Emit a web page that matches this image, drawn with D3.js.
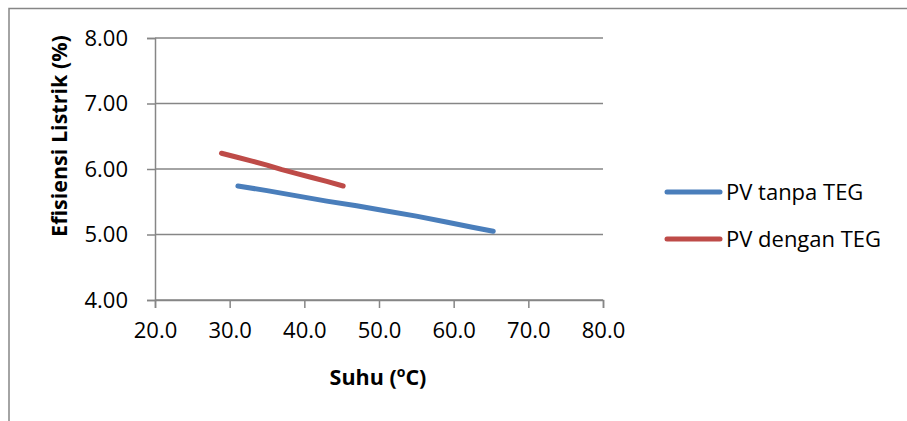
<!DOCTYPE html>
<html>
<head>
<meta charset="utf-8">
<script src="https://cdn.jsdelivr.net/npm/d3@7"></script>
<style>
  body { margin: 0; background: #fff; }
  svg text { font-family: "Open Sans", sans-serif; fill: #000; }
</style>
</head>
<body>
<div id="chart"></div>
<script>

// data
var xTicks = [20, 30, 40, 50, 60, 70, 80]
var yTicks = [4, 5, 6, 7, 8]

var suhuTanpa = [31.1, 35.0, 39.0, 43.0, 47.0, 51.0, 55.0, 59.0, 62.5, 65.3]
var effTanpa  = [5.74, 5.67, 5.59, 5.51, 5.44, 5.36, 5.28, 5.19, 5.11, 5.05]

var suhuDengan = [28.9, 31.0, 33.0, 35.0, 37.0, 39.0, 41.0, 43.0, 45.2]
var effDengan  = [6.24, 6.18, 6.12, 6.06, 5.99, 5.93, 5.87, 5.81, 5.74]

var seriesNames = ['PV tanpa TEG', 'PV dengan TEG']
var seriesCols = ['#4a7ebb', '#be4b48']

var W = 907, H = 421
var gridCol = '#868686'

var svg = d3.select('#chart').append('svg')
    .attr('width', W)
    .attr('height', H)

// outer chart frame (runs off the right/bottom edge like the original)
svg.append('rect')
  .attr('x', 9)
  .attr('y', 8.5)
  .attr('width', 1000)
  .attr('height', 600)
  .attr('fill', 'none')
  .attr('stroke', gridCol)
  .attr('stroke-width', 1.5)

var x = d3.scaleLinear().domain([20, 80]).range([155, 603])
var y = d3.scaleLinear().domain([4, 8]).range([300, 38])

// horizontal gridlines
svg.selectAll('.grid')
  .data(yTicks)
  .enter().append('line')
  .attr('x1', x(20))
  .attr('x2', x(80))
  .attr('y1', function(d) { return y(d) })
  .attr('y2', function(d) { return y(d) })
  .attr('stroke', gridCol)
  .attr('stroke-width', 1.5)

// y axis
var yAxis = svg.append('g')
  .attr('transform', 'translate(' + x(20) + ',0)')
  .call(d3.axisLeft(y).tickValues(yTicks).tickSize(8).tickPadding(19)
        .tickFormat(d3.format('.2f')))
yAxis.select('.domain').attr('stroke', gridCol).attr('stroke-width', 1.5)
yAxis.selectAll('.tick line').attr('stroke', gridCol).attr('stroke-width', 1.5)
yAxis.selectAll('.tick text')
  .attr('font-size', 22)
  .attr('font-family', '"Open Sans", sans-serif')
  .attr('fill', '#000')

// x axis
var xAxis = svg.append('g')
  .attr('transform', 'translate(0,' + y(4) + ')')
  .call(d3.axisBottom(x).tickValues(xTicks).tickSize(8).tickPadding(14)
        .tickFormat(d3.format('.1f')))
xAxis.select('.domain').attr('stroke', gridCol).attr('stroke-width', 1.5)
xAxis.selectAll('.tick line').attr('stroke', gridCol).attr('stroke-width', 1.5)
xAxis.selectAll('.tick text')
  .attr('font-size', 22)
  .attr('font-family', '"Open Sans", sans-serif')
  .attr('fill', '#000')

// series lines
var line = d3.line()
  .x(function(d) { return x(d[0]) })
  .y(function(d) { return y(d[1]) })

var series = [d3.zip(suhuTanpa, effTanpa), d3.zip(suhuDengan, effDengan)]

for (var i = 0; i < series.length; i++) {
  svg.append('path')
    .datum(series[i])
    .attr('d', line)
    .attr('fill', 'none')
    .attr('stroke', seriesCols[i])
    .attr('stroke-width', 5)
    .attr('stroke-linecap', 'round')
    .attr('stroke-linejoin', 'round')
}

// axis titles
svg.append('text')
  .attr('transform', 'translate(67,136) rotate(-90)')
  .attr('text-anchor', 'middle')
  .attr('font-size', 21.5)
  .attr('font-weight', 'bold')
  .text('Efisiensi Listrik (%)')

var xt = svg.append('text')
  .attr('x', 378)
  .attr('y', 385)
  .attr('text-anchor', 'middle')
  .attr('font-size', 21.5)
  .attr('font-weight', 'bold')
xt.append('tspan').text('Suhu (')
xt.append('tspan').attr('font-size', 14).attr('dy', -8).text('o')
xt.append('tspan').attr('dy', 8).text('C)')

// legend
var legY = [192, 239]
for (var i = 0; i < seriesNames.length; i++) {
  svg.append('line')
    .attr('x1', 667)
    .attr('x2', 720)
    .attr('y1', legY[i])
    .attr('y2', legY[i])
    .attr('stroke', seriesCols[i])
    .attr('stroke-width', 5)
    .attr('stroke-linecap', 'round')

  svg.append('text')
    .attr('x', 726)
    .attr('y', legY[i])
    .attr('dy', '0.35em')
    .attr('font-size', 22)
    .text(seriesNames[i])
}

</script>
</body>
</html>
